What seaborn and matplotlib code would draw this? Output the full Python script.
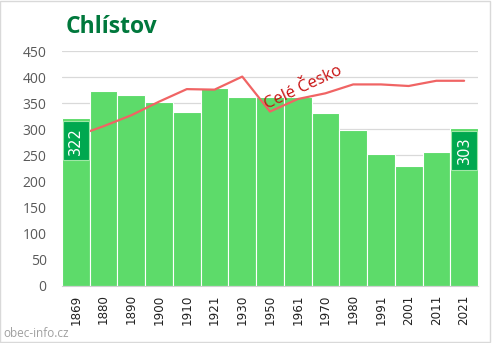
import numpy as np
import seaborn as sns
import matplotlib.pyplot as plt
from matplotlib.patches import Rectangle

roky = ['1869', '1880', '1890', '1900', '1910', '1921', '1930', '1950',
        '1961', '1970', '1980', '1991', '2001', '2011', '2021']
obyvatele = [322, 374, 366, 353, 334, 380, 361, 362, 362, 331, 298, 252, 229, 257, 303]
cele_cesko = [287, 306, 327, 353, 377, 376, 401, 334, 358, 369, 386, 386, 383, 393, 393]
popisky = {0: '322', 14: '303'}

sns.set_style('white')
plt.rcParams['font.family'] = ['Open Sans', 'DejaVu Sans']

fig = plt.figure(figsize=(4.92, 3.43), dpi=100)
ax = fig.add_axes([0.126, 0.1662, 0.8455, 0.6851])

sns.barplot(x=roky, y=obyvatele, color='#5ddb6a', saturation=1, width=1,
            edgecolor='white', linewidth=0.8, ax=ax, zorder=2)
sns.lineplot(x=np.arange(len(roky)), y=cele_cesko, color='#f06464',
             linewidth=1.6, ax=ax, zorder=3)

for i, txt in popisky.items():
    ax.annotate(txt, xy=(i, obyvatele[i]), xytext=(0, -16.5), textcoords='offset points',
                ha='center', va='center', rotation=90, color='white',
                fontsize=10.5, family='DejaVu Sans', zorder=5,
                bbox=dict(boxstyle='square,pad=0.38', facecolor='#00a84f',
                          edgecolor='#9ee8a6', linewidth=0.8))

ax.text(8.2, 379, 'Celé Česko', rotation=25, rotation_mode='anchor',
        ha='center', va='center', color='#c81010', fontsize=12, zorder=4)

ax.set_ylim(0, 450)
ax.set_xlim(-0.5, len(roky) - 0.5)
ax.set_yticks(range(0, 451, 50))
ax.yaxis.grid(True, color='#d9d9d9', linewidth=0.9, zorder=0)
ax.set_axisbelow(True)
for s in ['top', 'right', 'left']:
    ax.spines[s].set_visible(False)
ax.spines['bottom'].set_color('#d0d0d0')
ax.tick_params(axis='y', length=0, pad=11, labelsize=10, labelcolor='#595959')
ax.tick_params(axis='x', length=0, pad=6)
ax.set_xticks(np.arange(len(roky)) - 0.5, minor=True)
ax.tick_params(axis='x', which='minor', length=4, color='#d0d0d0', direction='out')
plt.setp(ax.get_xticklabels(), rotation=90, fontsize=8.6, family='DejaVu Sans', color='#222222')
ax.set_xlabel('')
ax.set_ylabel('')

fig.text(0.134, 0.905, 'Chlístov', fontsize=16.5, fontweight='bold', color='#00783c',
         family='Open Sans')
fig.text(0.006, 0.018, 'obec-info.cz', fontsize=8.5, color='#a0a0a0')
fig.patches.append(Rectangle((0.001, 0.002), 0.995, 0.994, transform=fig.transFigure,
                             fill=False, edgecolor='#d9d9d9', linewidth=1))

fig.savefig('out.png', dpi=100)
